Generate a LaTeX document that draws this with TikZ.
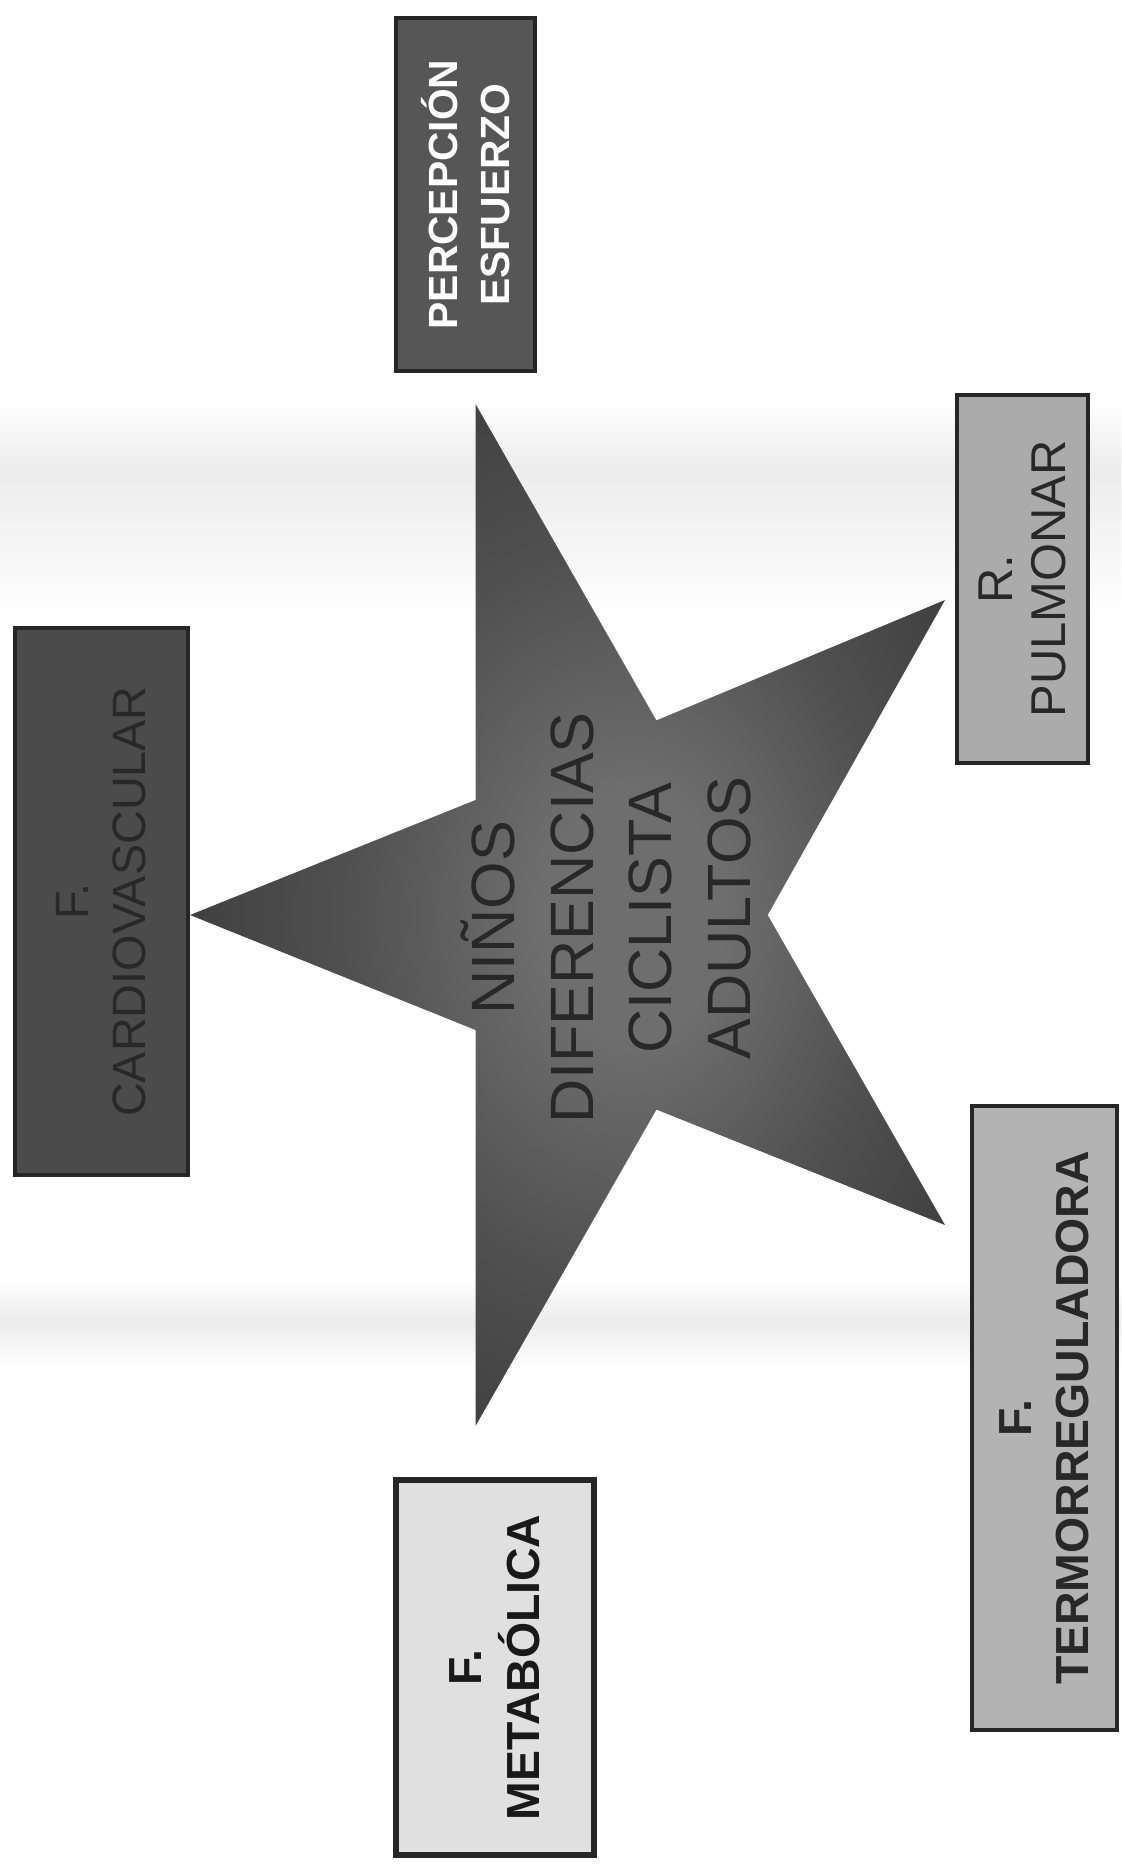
\documentclass[tikz,border=0pt]{standalone}
\usepackage{fontspec}
\setmainfont{Liberation Sans}

% --- 颜色 ---
\definecolor{fondo}{HTML}{ECECEC}
\definecolor{borde}{HTML}{262626}
\definecolor{grisPE}{HTML}{565656}
\definecolor{grisCV}{HTML}{4B4B4B}
\definecolor{grisPU}{HTML}{ABABAB}
\definecolor{grisME}{HTML}{E0E0E0}
\definecolor{grisTE}{HTML}{B3B3B3}
\definecolor{textoosc}{HTML}{282828}
\definecolor{estclaro}{HTML}{6E6E6E}
\definecolor{estmedio}{HTML}{505050}
\definecolor{estosc}{HTML}{383838}

% 星形的径向渐变：中心偏亮，尖端偏暗
\pgfdeclareradialshading{brillo}{\pgfpoint{5bp}{0bp}}{%
  color(0bp)=(estclaro); color(6bp)=(estclaro); color(18bp)=(estmedio);
  color(32bp)=(estosc); color(50bp)=(estosc)}

\tikzset{
  caja/.style={draw=borde, line width=1.3pt, rotate=90, inner sep=0pt, align=center},
}

\begin{document}
\begin{tikzpicture}[x=0.01cm, y=-0.01cm] % 坐标按像素写，y 向下

    % --- 0. 画布大小 ---
    \useasboundingbox (0,0) rectangle (1121,1864);

    % --- 1. 背景的浅灰色横带 ---
    \fill[top color=white, bottom color=fondo] (0,400) rectangle (1121,470);
    \fill[top color=fondo, bottom color=white] (0,470) rectangle (1121,620);
    \fill[top color=white, bottom color=fondo] (0,1278) rectangle (1121,1322);
    \fill[top color=fondo, bottom color=white] (0,1322) rectangle (1121,1370);

    % --- 2. 中间的五角星 ---
    % 五个尖端
    \coordinate (pT)  at (475.5, 404);
    \coordinate (pL)  at (190, 915);
    \coordinate (pB)  at (475.5, 1426);
    \coordinate (pBR) at (945, 1225);
    \coordinate (pTR) at (945, 600);
    % 五个内角点
    \coordinate (iTL) at (475.5, 800);
    \coordinate (iBL) at (475.5, 1030);
    \coordinate (iBR) at (656.4, 1109.6);
    \coordinate (iR)  at (767.7, 915);
    \coordinate (iTR) at (656.4, 720.4);

    \shade[shading=brillo] (pT) -- (iTL) -- (pL) -- (iBL) -- (pB) -- (iBR)
        -- (pBR) -- (iR) -- (pTR) -- (iTR) -- cycle;

    % 星形里的文字
    \node[rotate=90, align=center, text=textoosc,
          font=\fontsize{17.4}{22.3}\selectfont] (centro) at (606, 918)
          {NIÑOS\\DIFERENCIAS\\CICLISTA\\ADULTOS};

    % --- 3. 周围的五个方框 ---
    % minimum width 是文字方向（竖直）的长度
    \node[caja, fill=grisPE, text=white, font=\bfseries\fontsize{11.6}{14.8}\selectfont,
          minimum width=3.53cm, minimum height=1.39cm] (percepcion) at (465.5, 194.5)
          {PERCEPCIÓN\\ESFUERZO};

    \node[caja, fill=grisCV, text=textoosc, font=\fontsize{13.3}{16.2}\selectfont,
          minimum width=5.47cm, minimum height=1.73cm] (cardio) at (101.5, 901.5)
          {F.\\CARDIOVASCULAR};

    \node[caja, fill=grisPU, text=textoosc, font=\fontsize{13.9}{15}\selectfont,
          minimum width=3.68cm, minimum height=1.31cm] (pulmonar) at (1022.5, 579)
          {R.\\PULMONAR};

    \node[caja, fill=grisME, text=black!90, line width=1.7pt,
          font=\bfseries\fontsize{13.2}{16.5}\selectfont,
          minimum width=3.75cm, minimum height=1.98cm] (metabolica) at (495, 1667.5)
          {F.\\METABÓLICA};

    \node[caja, fill=grisTE, text=textoosc, font=\bfseries\fontsize{13.2}{16.2}\selectfont,
          minimum width=6.24cm, minimum height=1.45cm] (termo) at (1044.5, 1418)
          {F.\\TERMORREGULADORA};

\end{tikzpicture}
\end{document}
